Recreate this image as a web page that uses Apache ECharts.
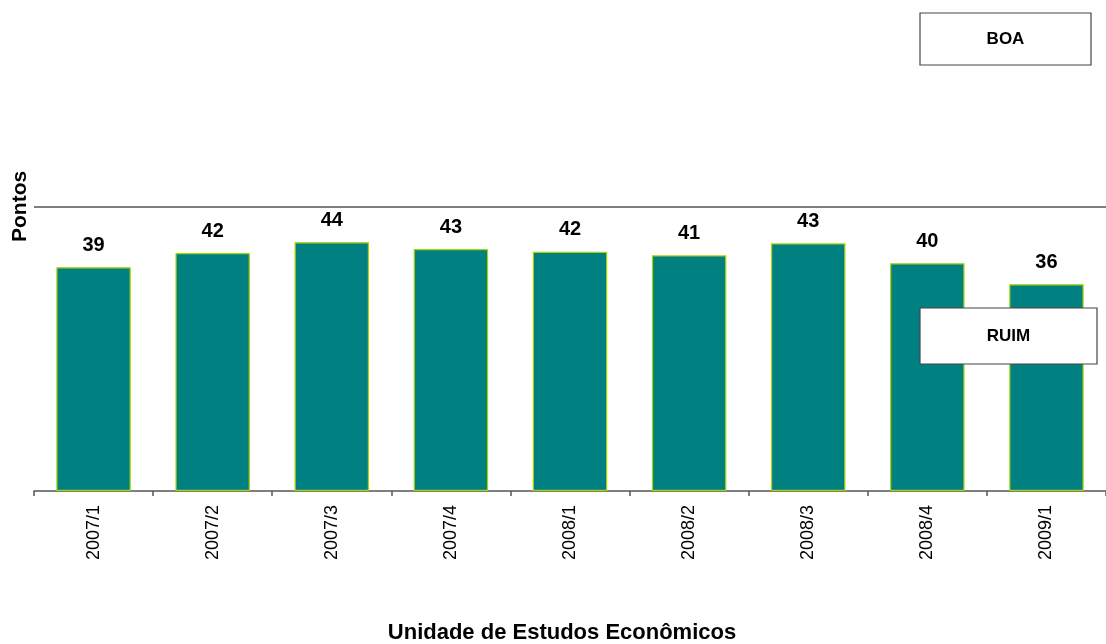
<!DOCTYPE html>
<html>
<head>
<meta charset="utf-8">
<script src="https://cdn.jsdelivr.net/npm/echarts@6/dist/echarts.min.js"></script>
<style>
html,body{margin:0;padding:0;background:#fff;}
#c{width:1106px;height:644px;}
</style>
</head>
<body>
<div id="c"></div>
<script>
var categories = ['2007/1','2007/2','2007/3','2007/4','2008/1','2008/2','2008/3','2008/4','2009/1'];
var values = [39.4, 41.9, 43.8, 42.6, 42.1, 41.5, 43.6, 40.1, 36.4];
var valueLabels = ['39','42','44','43','42','41','43','40','36'];
var referenceLevel = 50;
var yAxisName = 'Pontos';
var footerText = 'Unidade de Estudos Econômicos';
var upperBoxText = 'BOA';
var lowerBoxText = 'RUIM';

var font = 'Liberation Sans, Arial, sans-serif';
var chart = echarts.init(document.getElementById('c'));
chart.setOption({
  animation: false,
  backgroundColor: '#ffffff',
  grid: {left: 34, right: 0, top: 207, bottom: 153, containLabel: false},
  xAxis: {
    type: 'category',
    data: categories,
    axisLine: {lineStyle: {color: '#555555', width: 1.5}},
    axisTick: {show: true, length: 5, lineStyle: {color: '#555555', width: 1.5}},
    axisLabel: {rotate: 90, margin: 14, fontFamily: font, fontSize: 18, color: '#000000'}
  },
  yAxis: {
    type: 'value',
    min: 0,
    max: 50,
    show: false,
    splitLine: {show: false}
  },
  series: [{
    type: 'bar',
    data: values,
    barWidth: '62.5%',
    itemStyle: {color: '#008080', borderColor: '#a8d400', borderWidth: 1.2},
    label: {
      show: true,
      position: 'top',
      distance: 12,
      fontFamily: font,
      fontWeight: 'bold',
      fontSize: 20,
      color: '#000000',
      formatter: function (p) { return valueLabels[p.dataIndex]; }
    },
    markLine: {
      silent: true,
      symbol: 'none',
      label: {show: false},
      lineStyle: {color: '#555555', width: 1.5, type: 'solid'},
      data: [{yAxis: referenceLevel}]
    }
  }],
  graphic: [
    {
      type: 'text', x: 10, y: 242, rotation: Math.PI / 2, z: 100,
      style: {text: yAxisName, font: 'bold 21px ' + font, fill: '#000000'}
    },
    {
      type: 'group', x: 920, y: 13, z: 100,
      children: [
        {type: 'rect', z: 100, shape: {x: 0, y: 0, width: 171, height: 52}, style: {fill: '#ffffff', stroke: '#444444', lineWidth: 1.2}},
        {type: 'text', z: 101, style: {x: 85.5, y: 26, text: upperBoxText, font: 'bold 17px ' + font, fill: '#000000', textAlign: 'center', textVerticalAlign: 'middle'}}
      ]
    },
    {
      type: 'group', x: 920, y: 308, z: 100,
      children: [
        {type: 'rect', z: 100, shape: {x: 0, y: 0, width: 177, height: 56}, style: {fill: '#ffffff', stroke: '#444444', lineWidth: 1.2}},
        {type: 'text', z: 101, style: {x: 88.5, y: 28, text: lowerBoxText, font: 'bold 17px ' + font, fill: '#000000', textAlign: 'center', textVerticalAlign: 'middle'}}
      ]
    },
    {
      type: 'text', x: 562, y: 633, z: 100,
      style: {text: footerText, font: 'bold 22px ' + font, fill: '#000000', textAlign: 'center', textVerticalAlign: 'middle'}
    }
  ]
});
</script>
</body>
</html>
